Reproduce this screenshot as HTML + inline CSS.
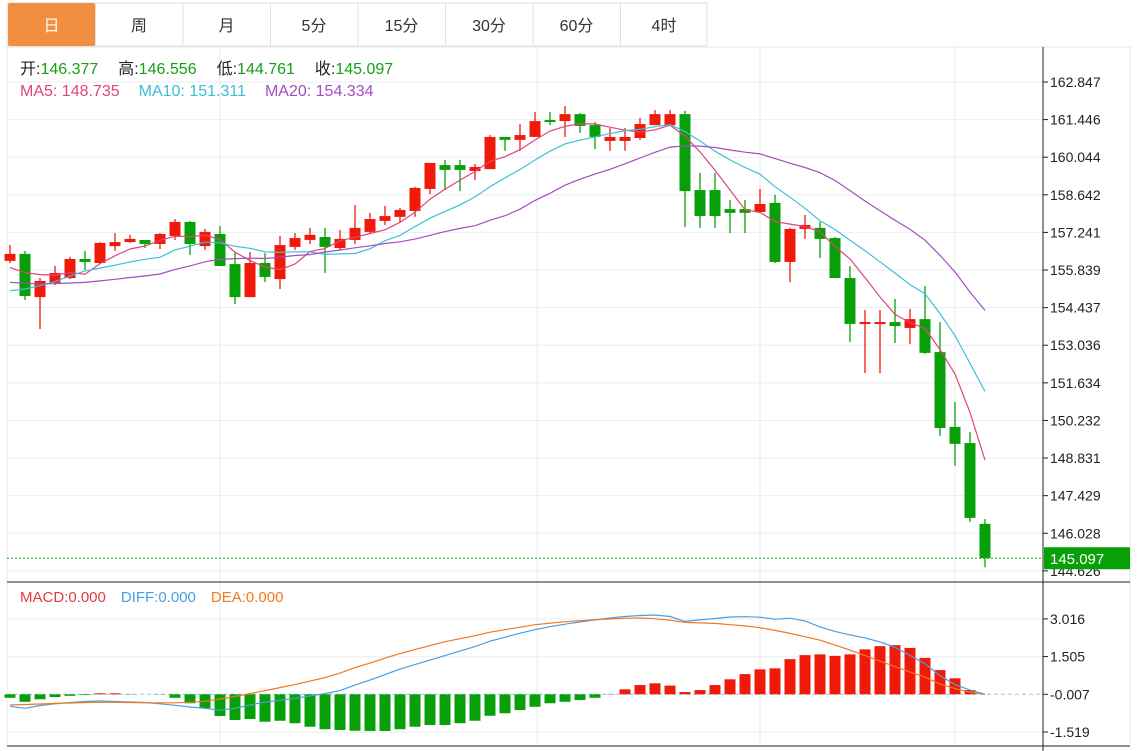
<!DOCTYPE html>
<html><head><meta charset="utf-8">
<style>
body{margin:0;background:#fff;font-family:"Liberation Sans","Noto Sans CJK SC",sans-serif;}
svg{display:block}
text{font-family:"Liberation Sans","Noto Sans CJK SC",sans-serif;}
</style></head>
<body>
<svg id="chart" width="1140" height="751" viewBox="0 0 1140 751" xmlns="http://www.w3.org/2000/svg">
<g id="tabs"></g>
<g id="grid"></g>
<g id="candles"></g>
<g id="mas"></g>
<g id="macd"></g>
<g id="axes"></g>
<g id="legend">
 <text x="20" y="74" font-size="16"><tspan fill="#222">开:</tspan><tspan fill="#14a014">146.377</tspan><tspan fill="#222" dx="20">高:</tspan><tspan fill="#14a014">146.556</tspan><tspan fill="#222" dx="20">低:</tspan><tspan fill="#14a014">144.761</tspan><tspan fill="#222" dx="20">收:</tspan><tspan fill="#14a014">145.097</tspan></text>
 <text x="20" y="96" font-size="16"><tspan fill="#e0457b">MA5: 148.735</tspan><tspan fill="#3cc0d8" dx="19">MA10: 151.311</tspan><tspan fill="#a64cc0" dx="19">MA20: 154.334</tspan></text>
 <text x="20" y="602" font-size="15"><tspan fill="#e03c3c">MACD:0.000</tspan><tspan fill="#4a9ee0" dx="15">DIFF:0.000</tspan><tspan fill="#f07820" dx="15">DEA:0.000</tspan></text>
</g>
</svg>
<script>
const tabLabels=["日","周","月","5分","15分","30分","60分","4时"];
const priceTicks=[162.847,161.446,160.044,158.642,157.241,155.839,154.437,153.036,151.634,150.232,148.831,147.429,146.028,144.626];
const macdTicks=[3.016,1.505,-0.007,-1.519];
const opens=[156.18,156.44,154.83,155.36,155.54,156.25,156.10,156.73,156.88,156.96,156.81,157.11,157.63,156.73,157.18,156.06,154.83,156.10,155.50,156.70,156.96,157.07,156.66,156.96,157.26,157.67,157.82,158.04,158.86,159.75,159.75,159.53,159.60,160.80,160.69,160.80,161.43,161.39,161.65,161.24,160.65,160.65,160.76,161.24,161.24,161.65,158.82,158.82,158.11,158.11,158.00,158.34,156.14,157.37,157.41,157.03,155.54,153.83,153.83,153.90,153.68,154.01,152.78,149.99,149.39,146.377];
const highs=[156.77,156.55,155.54,155.99,156.33,156.55,156.88,157.22,157.15,156.96,157.22,157.74,157.67,157.37,157.48,156.51,156.51,156.47,157.11,157.22,157.41,157.41,157.33,158.26,157.97,158.23,158.15,158.93,159.83,159.94,159.94,159.79,160.87,160.80,161.28,161.73,161.73,161.95,161.69,161.36,161.13,161.13,161.51,161.80,161.80,161.77,159.46,159.46,158.45,158.45,158.86,158.64,157.41,157.89,157.63,157.07,155.99,154.35,154.35,154.76,154.39,155.24,153.90,150.92,149.80,146.556];
const lows=[156.10,154.72,153.64,155.28,155.50,155.84,156.06,156.55,156.85,156.66,156.62,156.96,156.40,156.59,155.99,154.57,154.83,155.39,155.13,156.59,156.81,155.73,156.59,156.81,157.18,157.52,157.63,157.82,158.67,158.82,158.78,159.20,159.60,160.28,160.28,160.80,161.24,160.80,160.95,160.35,160.28,160.28,160.69,161.24,161.24,157.44,157.41,157.41,157.22,157.22,158.00,156.10,155.39,157.00,156.29,155.54,153.16,152.00,152.00,153.12,153.08,152.71,149.65,148.54,146.45,144.761];
const closes=[156.44,154.87,155.43,155.73,156.25,156.14,156.85,156.88,157.00,156.81,157.18,157.63,156.81,157.26,155.99,154.83,156.10,155.58,156.77,157.03,157.15,156.70,157.00,157.41,157.74,157.85,158.08,158.90,159.83,159.57,159.57,159.68,160.80,160.69,160.87,161.39,161.36,161.65,161.21,160.80,160.80,160.80,161.28,161.65,161.65,158.78,157.85,157.85,157.97,157.97,158.30,156.14,157.37,157.52,157.00,155.54,153.83,153.90,153.90,153.75,154.01,152.75,149.95,149.36,146.60,145.097];
const priorCloses=[155.7,155.7,155.7,155.7,155.7,155.7,155.7,155.7,155.7,155.7,154.2,154.2,154.2,154.2,154.2,155.8,155.8,155.8,155.8];
const macdHist=[-0.14,-0.30,-0.20,-0.11,-0.06,-0.03,0.04,0.04,0.01,0.0,-0.01,-0.14,-0.36,-0.56,-0.87,-1.03,-0.99,-1.10,-1.06,-1.16,-1.30,-1.40,-1.43,-1.46,-1.47,-1.47,-1.40,-1.30,-1.23,-1.23,-1.16,-1.06,-0.86,-0.76,-0.63,-0.50,-0.36,-0.30,-0.23,-0.14,0.01,0.20,0.37,0.44,0.35,0.09,0.17,0.37,0.60,0.81,1.00,1.04,1.41,1.57,1.60,1.54,1.60,1.80,1.93,1.97,1.86,1.46,0.97,0.64,0.17,0];
const diffVals=[-0.48,-0.56,-0.45,-0.38,-0.33,-0.29,-0.27,-0.29,-0.31,-0.33,-0.38,-0.44,-0.51,-0.56,-0.64,-0.56,-0.43,-0.31,-0.24,-0.16,-0.07,0.03,0.15,0.37,0.57,0.79,1.01,1.19,1.37,1.55,1.73,1.91,2.13,2.29,2.45,2.59,2.71,2.81,2.90,2.98,3.06,3.12,3.16,3.18,3.12,2.92,2.98,3.04,3.10,3.11,3.09,3.01,3.05,2.94,2.70,2.52,2.38,2.26,2.10,1.88,1.56,1.22,0.75,0.39,0.17,0];
const deaVals=[-0.43,-0.41,-0.39,-0.36,-0.35,-0.33,-0.32,-0.32,-0.33,-0.34,-0.34,-0.34,-0.32,-0.28,-0.19,-0.09,0.03,0.15,0.27,0.39,0.53,0.67,0.85,1.07,1.25,1.45,1.63,1.79,1.95,2.11,2.23,2.35,2.49,2.59,2.69,2.79,2.85,2.91,2.95,2.99,3.02,3.05,3.06,3.03,2.97,2.88,2.86,2.84,2.79,2.74,2.67,2.56,2.44,2.31,2.17,1.97,1.77,1.55,1.33,1.11,0.89,0.69,0.41,0.23,0.09,0];

const NS="http://www.w3.org/2000/svg";
const UP="#f01a0a",DN="#08a008";
function mk(tag,attrs,parent){const e=document.createElementNS(NS,tag);for(const k in attrs)e.setAttribute(k,attrs[k]);parent.appendChild(e);return e;}
const L=7,R=1043;
const xOf=i=>10+15*i;
const yP=p=>82+(162.847-p)*26.83;
const yM=v=>694.3-v*24.95;

// tabs
const tabs=document.getElementById('tabs');
mk('rect',{x:7,y:3,width:700,height:43,fill:'#fff',stroke:'#e2e2e2'},tabs);
tabLabels.forEach((t,i)=>{
  const x0=8+i*87.5;
  const g=mk('g',{},tabs);
  
  
  if(i===0) mk('rect',{x:x0,y:3,width:87,height:43,fill:'#f28e3f',rx:2},g);
  else mk('line',{x1:x0,y1:3,x2:x0,y2:46,stroke:'#e2e2e2'},g);
  const tx=mk('text',{x:x0+43.5,y:31,'font-size':16,'text-anchor':'middle',fill:i===0?'#fff':'#333'},g);
  tx.textContent=t;
});
mk('line',{x1:707,y1:3,x2:707,y2:46,stroke:'#e2e2e2'},tabs);

// grid
const grid=document.getElementById('grid');
mk('line',{x1:L,y1:47,x2:1130,y2:47,stroke:'#e6e6e6'},grid);
mk('line',{x1:L,y1:47,x2:L,y2:746,stroke:'#e6eaee'},grid);
mk('line',{x1:1130,y1:47,x2:1130,y2:746,stroke:'#e6e6e6'},grid);
priceTicks.forEach(p=>mk('line',{x1:L,y1:yP(p),x2:R,y2:yP(p),stroke:'#e9eef3'},grid));
macdTicks.forEach(v=>{ if(Math.abs(v+0.007)>0.01) mk('line',{x1:L,y1:yM(v),x2:R,y2:yM(v),stroke:'#e9eef3'},grid);});
[220,537,760,955].forEach(x=>mk('line',{x1:x,y1:47,x2:x,y2:746,stroke:'#e6ecf2'},grid));

// candles
const cg=document.getElementById('candles');
closes.forEach((c,i)=>{
  const o=opens[i],up=c>=o&&!(i===5||i===9||i===29||i===30||i===33||i===36||i===48||i===49||i===59);
  const col=(c>o)?UP:(c<o?DN:(up?UP:DN));
  const x=xOf(i);
  const g=mk('g',{},cg);
  
  
  mk('line',{x1:x,y1:yP(highs[i]),x2:x,y2:yP(lows[i]),stroke:col,'stroke-width':1.3},g);
  const yt=yP(Math.max(o,c)),yb=yP(Math.min(o,c));
  mk('rect',{x:x-5.5,y:yt,width:11,height:Math.max(2,yb-yt),fill:col},g);
});
mk('line',{x1:L,y1:yP(145.097),x2:R,y2:yP(145.097),stroke:'#16a016','stroke-dasharray':'2,2'},cg);

// MAs
const all=priorCloses.concat(closes);
const mas=document.getElementById('mas');
[[5,'#e0457b','ma5-line'],[10,'#3cc0d8','ma10-line'],[20,'#a64cc0','ma20-line']].forEach(([n,col,name])=>{
  const pts=closes.map((c,i)=>{const k=i+priorCloses.length;let s=0;for(let j=k-n+1;j<=k;j++)s+=all[j];return xOf(i)+','+yP(s/n).toFixed(1);});
  const pl=mk('polyline',{points:pts.join(' '),fill:'none',stroke:col,'stroke-width':1.2},mas);
  
  
});

// MACD
const mg=document.getElementById('macd');
mk('line',{x1:L,y1:yM(0),x2:1043,y2:yM(0),stroke:'#8cc8ec','stroke-dasharray':'4,3'},mg);
macdHist.forEach((v,i)=>{
  if(Math.abs(v)<0.005) return;
  const y0=yM(0),y1=yM(v);
  const r=mk('rect',{x:xOf(i)-5.5,y:Math.min(y0,y1),width:11,height:Math.abs(y1-y0),fill:v>0?UP:DN},mg);
  
  
});
const dl=mk('polyline',{points:diffVals.map((v,i)=>xOf(i)+','+yM(v).toFixed(1)).join(' '),fill:'none',stroke:'#4a9ee0','stroke-width':1.2},mg);


const el2=mk('polyline',{points:deaVals.map((v,i)=>xOf(i)+','+yM(v).toFixed(1)).join(' '),fill:'none',stroke:'#f07820','stroke-width':1.2},mg);



// axes
const ax=document.getElementById('axes');
mk('line',{x1:R,y1:47,x2:R,y2:751,stroke:'#222'},ax);
mk('line',{x1:L,y1:582,x2:1130,y2:582,stroke:'#222'},ax);
mk('line',{x1:L,y1:746,x2:1130,y2:746,stroke:'#222'},ax);
priceTicks.forEach(p=>{
  const y=yP(p);
  mk('line',{x1:R,y1:y,x2:R+5,y2:y,stroke:'#222'},ax);
  const t=mk('text',{x:1050,y:y+5,'font-size':14,fill:'#222'},ax);
  t.textContent=p.toFixed(3);
  
  
});
macdTicks.forEach(v=>{
  const y=yM(v+0.007);
  mk('line',{x1:R,y1:y,x2:R+5,y2:y,stroke:'#222'},ax);
  const t=mk('text',{x:1050,y:y+5,'font-size':14,fill:'#222'},ax);
  t.textContent=v.toFixed(3);
  
  
});
const cy=yP(145.097);
const box=mk('rect',{x:R+1,y:cy-11,width:86,height:22,fill:'#08a008'},ax);


const ct=mk('text',{x:1050,y:cy+6,'font-size':15,fill:'#fff'},ax);
ct.textContent='145.097';
</script>
</body></html>
